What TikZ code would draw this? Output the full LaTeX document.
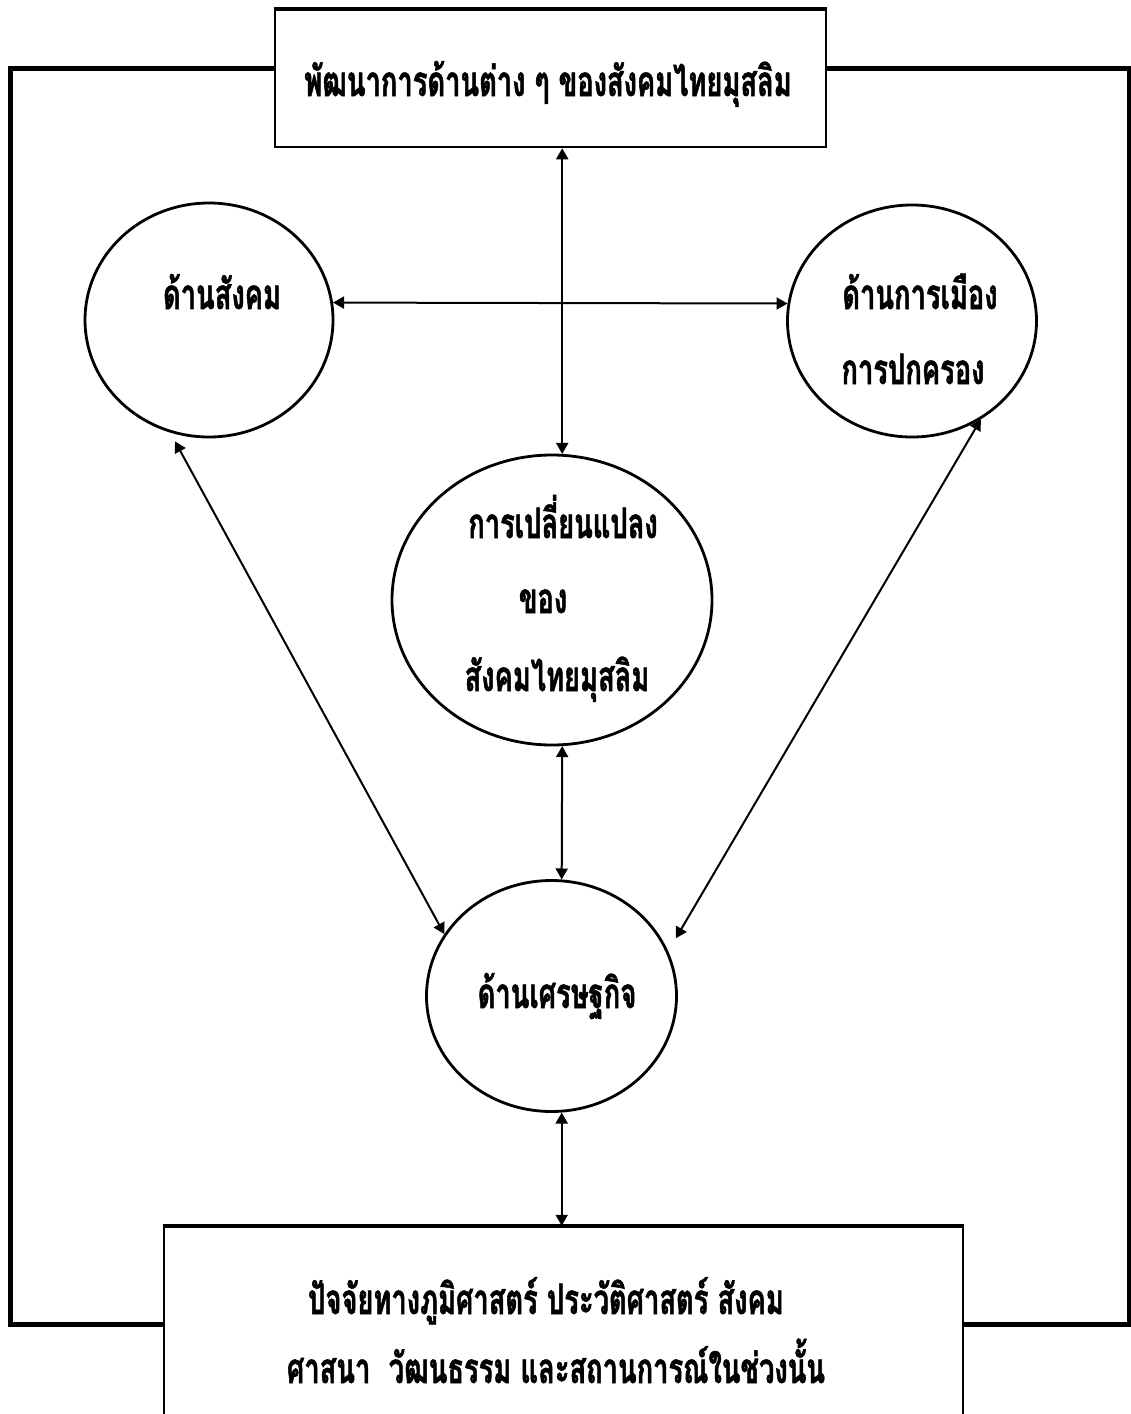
\documentclass[tikz,border=0pt]{standalone}
\usepackage{fontspec}
\newfontfamily\thaifont[Script=Thai,FakeStretch=0.65,FakeBold=1.2]{Loma}
\usetikzlibrary{shapes.geometric,arrows.meta}
\begin{document}
\begin{tikzpicture}[x=1pt,y=-1pt,
  frame/.style={line width=5pt,line join=miter},
  box/.style={draw,line width=2.5pt,inner sep=0pt},
  circ/.style={draw,ellipse,line width=2.8pt,inner sep=0pt},
  lbl/.style={font=\thaifont\bfseries\fontsize{42}{46}\selectfont,inner sep=0pt,anchor=base},
  conn/.style={line width=2pt,{Triangle[length=11pt,width=12pt]}-{Triangle[length=11pt,width=12pt]}}]
\useasboundingbox (0,0) rectangle (1131,1414);
\clip (0,0) rectangle (1131,1414);
\fill[white] (0,0) rectangle (1131,1414);

% boxes
\node[box, minimum width=551pt, minimum height=137pt] (top) at (550.5,78.5) {};
\node[box, minimum width=799pt, minimum height=213pt] (bot) at (563.5,1333.5) {};
\draw[line width=4pt] (top.north west) -- (top.north east);
\draw[line width=4pt] (bot.north west) -- (bot.north east);

% circles
\node[circ, minimum width=248pt, minimum height=234pt] (soc) at (209,320) {};
\node[circ, minimum width=249pt, minimum height=232pt] (pol) at (912,321) {};
\node[circ, minimum width=320pt, minimum height=290pt] (mid) at (552,600) {};
\node[circ, minimum width=250pt, minimum height=231pt] (econ) at (551.5,996) {};

% outer frame
\draw[frame] ([yshift=10.5pt]top.west) -- (10,68) -- (10,1324) -- ([yshift=9.5pt]bot.west);
\draw[frame] ([yshift=10.5pt]top.east) -- (1129,68) -- (1129,1324) -- ([yshift=9.5pt]bot.east);

% texts
\node[lbl] (ttop) at (548,96) {พัฒนาการด้านต่าง ๆ ของสังคมไทยมุสลิม};
\node[lbl] (tsoc) at (222,309) {ด้านสังคม};
\node[lbl] (tpol1) at (920,309) {ด้านการเมือง};
\node[lbl] (tpol2) at (913,384) {การปกครอง};
\node[lbl] (tmid1) at (563,538) {การเปลี่ยนแปลง};
\node[lbl] (tmid2) at (543,613) {ของ};
\node[lbl] (tmid3) at (557,691) {สังคมไทยมุสลิม};
\node[lbl] (tecon) at (557,1008) {ด้านเศรษฐกิจ};
\node[lbl] (tbot1) at (546,1314) {ปัจจัยทางภูมิศาสตร์ ประวัติศาสตร์ สังคม};
\node[lbl] (tbot2) at (556,1383) {ศาสนา\ \ วัฒนธรรม และสถานการณ์ในช่วงนั้น};

% connectors
\draw[conn] (top.south -| mid.86) -- (mid.86);
\draw[conn] (soc.8) -- (pol.172);
\draw[conn] (mid.-86) -- (econ.85);
\draw[conn] (econ.-85) -- (bot.north -| econ.-85);
\draw[conn, shorten >=10pt] (econ.150) -- (soc.251);
\draw[conn, shorten <=15pt] (econ.21) -- (pol.-55);
\end{tikzpicture}
\end{document}
